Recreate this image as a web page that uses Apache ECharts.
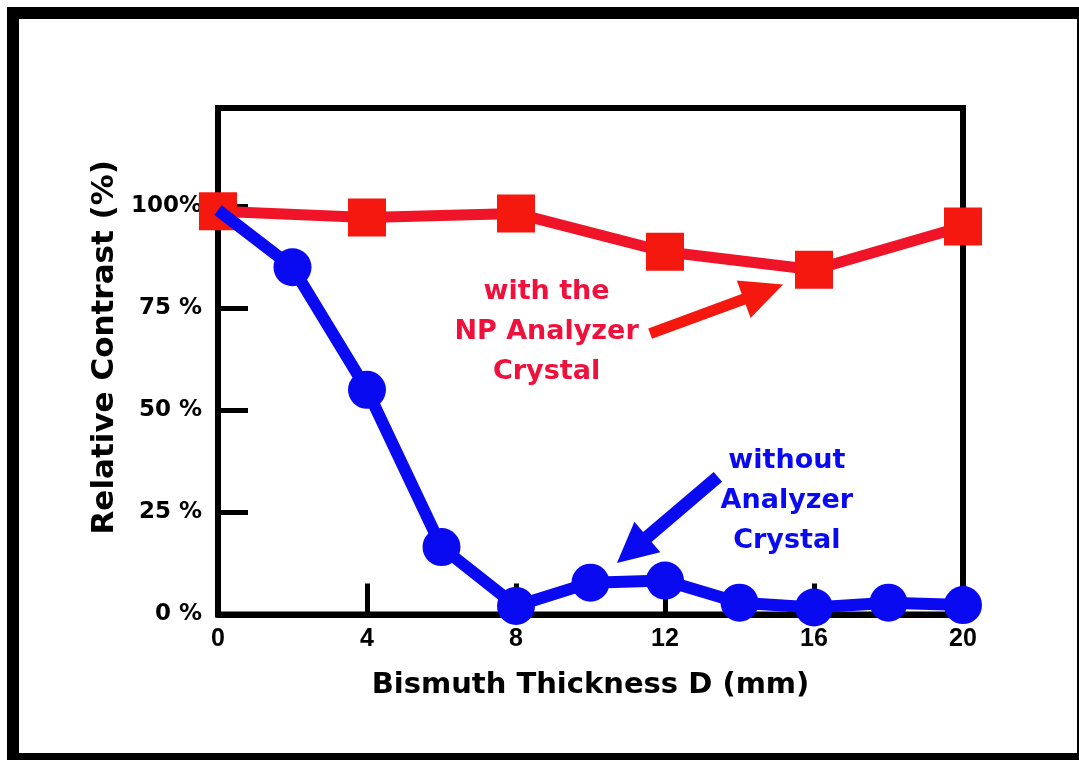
<!DOCTYPE html>
<html><head><meta charset="utf-8">
<script src="https://cdn.jsdelivr.net/npm/echarts@6/dist/echarts.min.js"></script>
<style>html,body{margin:0;padding:0;background:#fff}#c{width:1079px;height:760px}</style>
</head><body><div id="c"></div>
<script>
// ---- data ----
const xTitle = 'Bismuth Thickness D (mm)';
const yTitle = 'Relative Contrast (%)';
const yTickValues = [0, 25, 50, 75, 100];
const yTickLabels = ['0 %', '25 %', '50 %', '75 %', '100%'];
const redX = [0, 4, 8, 12, 16, 20];
const redY = [98.7, 97.2, 98.2, 88.8, 84.4, 95.0];
const blueX = [0, 2, 4, 6, 8, 10, 12, 14, 16, 18, 20];
const blueY = [99.0, 85.0, 55.0, 16.5, 2.1, 7.8, 8.3, 2.9, 1.7, 2.9, 2.3];
const redNote = ['with the', 'NP Analyzer', 'Crystal'];
const blueNote = ['without', 'Analyzer', 'Crystal'];
const redNoteAt = [8.82, 69.1];
const blueNoteAt = [15.27, 27.8];
const redArrow = [[11.6, 68.75], [15.17, 80.76]];
const blueArrow = [[13.42, 33.7], [10.71, 12.62]];

const RED_MARK = '#f5180f', RED_LINE = '#f01428', RED_TEXT = '#f0103c';
const BLUE = '#0a0af0';
const FONT = 'DejaVu Sans';

const chart = echarts.init(document.getElementById('c'), null, {renderer: 'canvas'});

const option = {
  animation: false,
  backgroundColor: '#fff',
  grid: {left: 218, right: 116, top: 108, bottom: 145.5, show: true,
         borderColor: '#000', borderWidth: 6, backgroundColor: 'transparent'},
  xAxis: {
    type: 'value', min: 0, max: 20, interval: 4,
    name: xTitle, nameLocation: 'middle', nameGap: 56,
    nameTextStyle: {fontFamily: FONT, fontWeight: 'bold', fontSize: 29, color: '#000'},
    axisLine: {show: true, lineStyle: {color: '#000', width: 6}},
    axisTick: {show: true, inside: true, length: 31, lineStyle: {color: '#000', width: 5}},
    axisLabel: {margin: 12, fontFamily: 'Liberation Sans', fontWeight: 'bold', fontSize: 25, color: '#000'},
    splitLine: {show: false}
  },
  yAxis: {
    type: 'value', min: 0, max: 124, interval: 25,
    name: yTitle, nameLocation: 'middle', nameGap: 96,
    nameTextStyle: {fontFamily: FONT, fontWeight: 'bold', fontSize: 31, color: '#000', padding: [0, 0, 0, 28]},
    axisLine: {show: true, lineStyle: {color: '#000', width: 6}},
    axisTick: {show: true, inside: true, length: 30, lineStyle: {color: '#000', width: 5}},
    axisLabel: {margin: 16, fontFamily: FONT, fontWeight: 'bold', fontSize: 23, color: '#000',
      formatter: v => { const i = yTickValues.indexOf(v); return i >= 0 ? yTickLabels[i] : ''; }},
    splitLine: {show: false}
  },
  series: [
    {
      type: 'line', z: 2, clip: false,
      data: redX.map((x, i) => [x, redY[i]]),
      symbol: 'rect', symbolSize: 38,
      lineStyle: {color: RED_LINE, width: 11},
      itemStyle: {color: RED_MARK}
    },
    {
      type: 'line', z: 3, clip: false,
      data: blueX.map((x, i) => i === 0 ? {value: [x, blueY[i]], symbol: 'none'} : [x, blueY[i]]),
      symbol: 'circle', symbolSize: 38,
      lineStyle: {color: BLUE, width: 12},
      itemStyle: {color: BLUE}
    }
  ]
};
chart.setOption(option);

function px(p) { return chart.convertToPixel({gridIndex: 0}, p); }

function arrow(a, color, shaftW, L, W) {
  const t = px(a[0]), h = px(a[1]);
  const dx = h[0] - t[0], dy = h[1] - t[1];
  const len = Math.hypot(dx, dy), ux = dx / len, uy = dy / len;
  const bx = h[0] - ux * L, by = h[1] - uy * L;
  const nx = -uy, ny = ux;
  return [
    {type: 'line', z: 10, shape: {x1: t[0], y1: t[1], x2: bx + ux * 2, y2: by + uy * 2},
     style: {stroke: color, lineWidth: shaftW}},
    {type: 'polygon', z: 10, shape: {points: [[h[0], h[1]], [bx + nx * W, by + ny * W], [bx - nx * W, by - ny * W]]},
     style: {fill: color}}
  ];
}

function note(lines, at, color) {
  const p = px(at);
  return {type: 'text', z: 10, x: p[0], y: p[1],
    style: {text: lines.join('\n'), fill: color, fontFamily: FONT, fontWeight: 'bold', fontSize: 27,
      lineHeight: 40, align: 'center', verticalAlign: 'middle', textAlign: 'center', textVerticalAlign: 'middle'}};
}

const g = [];
g.push({type: 'rect', z: 20, shape: {x: 13, y: 13, width: 1070, height: 746},
        style: {fill: 'none', stroke: '#000', lineWidth: 12}});
g.push(...arrow(redArrow, RED_MARK, 11, 42, 20));
g.push(...arrow(blueArrow, BLUE, 13, 40, 20));
g.push(note(redNote, redNoteAt, RED_TEXT));
g.push(note(blueNote, blueNoteAt, BLUE));
chart.setOption({graphic: g});
</script></body></html>
